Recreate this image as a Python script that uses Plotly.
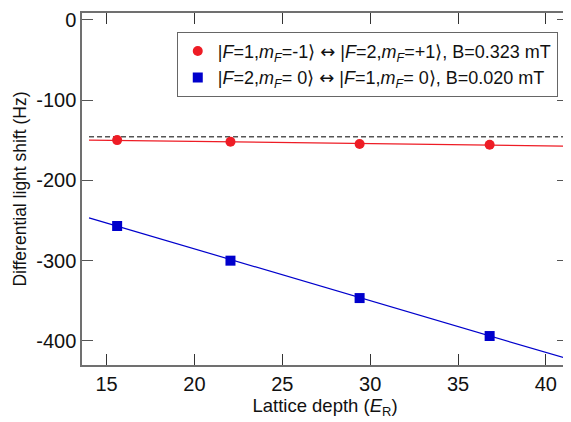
import plotly.graph_objects as go

# Data
depth = [15.6, 22.05, 29.4, 36.8]
shift_m1 = [-150.0, -152.0, -154.8, -155.8]
shift_00 = [-257.0, -300.2, -346.8, -394.1]

fit_x = [14.0, 41.0]
fit_m1 = [-150.0, -157.4]
fit_00 = [-246.8, -421.0]
ref_level = [-145.9, -145.9]

xticks = [15, 20, 25, 30, 35, 40]
yticks = [0, -100, -200, -300, -400]
yticktext = ["0", "-100", "-200", "-300", "-400"]

red = "#ee1c25"
blue = "#0000cc"
font = "Liberation Sans, Arial, sans-serif"
arrow = "<span style=\"font-family:DejaVu Sans\">\u2194</span>"

fig = go.Figure()
fig.add_trace(go.Scatter(x=fit_x, y=ref_level, mode="lines",
                         line=dict(color="#555555", width=1.5, dash="5px,3px"),
                         showlegend=False, hoverinfo="skip"))
fig.add_trace(go.Scatter(x=fit_x, y=fit_m1, mode="lines",
                         line=dict(color=red, width=1.2), showlegend=False))
fig.add_trace(go.Scatter(x=fit_x, y=fit_00, mode="lines",
                         line=dict(color=blue, width=1.2), showlegend=False))
fig.add_trace(go.Scatter(
    x=depth, y=shift_m1, mode="markers",
    marker=dict(symbol="circle", size=10, color=red),
    name="|<i>F</i>=1,<i>m</i><sub><i>F</i></sub>=-1\u27e9 " + arrow + " |<i>F</i>=2,<i>m</i><sub><i>F</i></sub>=+1\u27e9, B=0.323 mT"))
fig.add_trace(go.Scatter(
    x=depth, y=shift_00, mode="markers",
    marker=dict(symbol="square", size=10, color=blue),
    name="|<i>F</i>=2,<i>m</i><sub><i>F</i></sub>= 0\u27e9 " + arrow + " |<i>F</i>=1,<i>m</i><sub><i>F</i></sub>= 0\u27e9, B=0.020 mT"))

axis_common = dict(showline=True, mirror="ticks", ticks="inside", ticklen=11,
                   linecolor="#707070", linewidth=1.5, showgrid=False, zeroline=False,
                   ticklabeloverflow="allow",
                   tickfont=dict(size=20, color="#111111", family=font))

fig.update_layout(
    width=563, height=414,
    margin=dict(l=74, r=1, t=2, b=57),
    paper_bgcolor="white", plot_bgcolor="white",
    font=dict(family=font, color="#111111"),
    xaxis=dict(range=[13.6, 41.26], tickvals=xticks, tickcolor="#333333", tickwidth=1.2,
               title=dict(text="Lattice depth (<i>E</i><sub>R</sub>)", font=dict(size=18.5), standoff=2),
               **axis_common),
    yaxis=dict(range=[-430.2, 8.4], tickvals=yticks, ticktext=yticktext,
               tickcolor="#555555", tickwidth=1.2,
               title=dict(text="Differential light shift (Hz)", font=dict(size=17.5), standoff=5),
               **axis_common),
    legend=dict(x=0.195, y=0.9465, xanchor="left", yanchor="top",
                bordercolor="#666666", borderwidth=1, bgcolor="white",
                font=dict(size=18, family=font, color="#111111"),
                tracegroupgap=0, itemwidth=30),
    showlegend=True,
)

fig.write_html("out.html")
